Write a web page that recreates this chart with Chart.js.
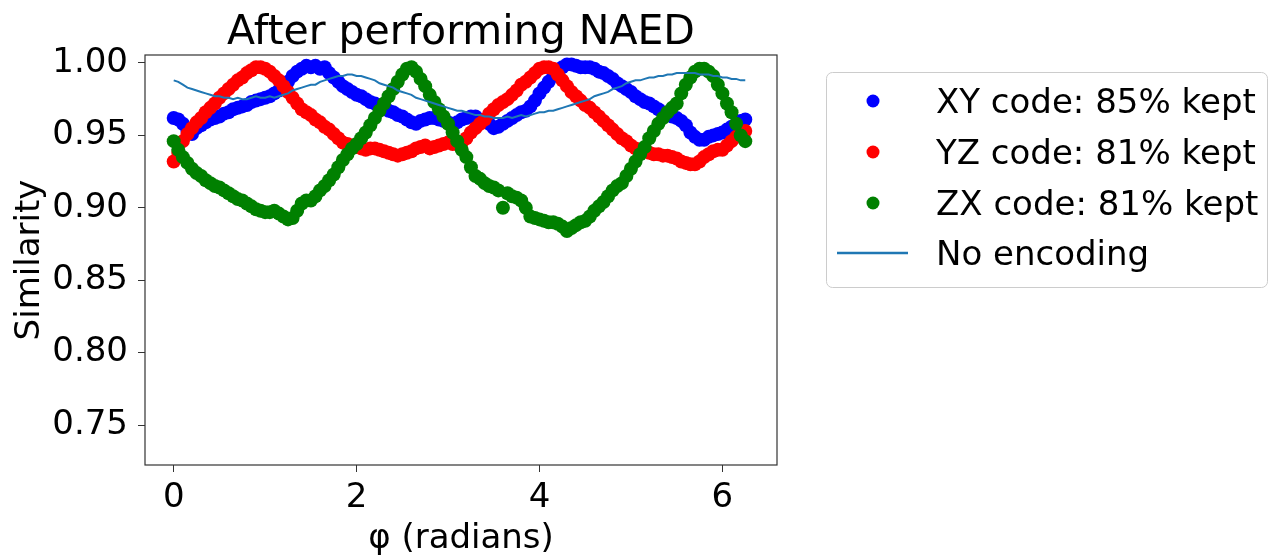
<!DOCTYPE html>
<html>
<head>
<meta charset="utf-8">
<script src="https://cdn.jsdelivr.net/npm/chart.js@4"></script>
<style>
  html, body { margin: 0; padding: 0; background: #fff; }
  canvas { display: block; }
</style>
</head>
<body>
<canvas id="grafica" width="1269" height="556"></canvas>
<script>
// Ángulo φ (radianes)
const phi = [
  0.00, 0.05, 0.10, 0.15, 0.20, 0.25, 0.30, 0.35, 0.40, 0.45,
  0.50, 0.55, 0.60, 0.65, 0.70, 0.75, 0.80, 0.85, 0.90, 0.95,
  1.00, 1.05, 1.10, 1.15, 1.20, 1.25, 1.30, 1.35, 1.40, 1.45,
  1.50, 1.55, 1.60, 1.65, 1.70, 1.75, 1.80, 1.85, 1.90, 1.95,
  2.00, 2.05, 2.10, 2.15, 2.20, 2.25, 2.30, 2.35, 2.40, 2.45,
  2.50, 2.55, 2.60, 2.65, 2.70, 2.75, 2.80, 2.85, 2.90, 2.95,
  3.00, 3.05, 3.10, 3.15, 3.20, 3.25, 3.30, 3.35, 3.40, 3.45,
  3.50, 3.55, 3.60, 3.65, 3.70, 3.75, 3.80, 3.85, 3.90, 3.95,
  4.00, 4.05, 4.10, 4.15, 4.20, 4.25, 4.30, 4.35, 4.40, 4.45,
  4.50, 4.55, 4.60, 4.65, 4.70, 4.75, 4.80, 4.85, 4.90, 4.95,
  5.00, 5.05, 5.10, 5.15, 5.20, 5.25, 5.30, 5.35, 5.40, 5.45,
  5.50, 5.55, 5.60, 5.65, 5.70, 5.75, 5.80, 5.85, 5.90, 5.95,
  6.00, 6.05, 6.10, 6.15, 6.20, 6.25
];

// XY code: 85% kept
const xyCode = [
  0.962, 0.961, 0.958, 0.953, 0.951, 0.955, 0.957, 0.959, 0.961, 0.962,
  0.963, 0.965, 0.966, 0.968, 0.969, 0.970, 0.971, 0.973, 0.974, 0.975,
  0.976, 0.977, 0.979, 0.981, 0.984, 0.987, 0.991, 0.994, 0.996, 0.998,
  0.997, 0.998, 0.996, 0.997, 0.993, 0.990, 0.987, 0.984, 0.982, 0.980,
  0.978, 0.977, 0.975, 0.973, 0.972, 0.970, 0.969, 0.967, 0.966, 0.964,
  0.963, 0.961, 0.959, 0.958, 0.960, 0.961, 0.962, 0.962, 0.961, 0.960,
  0.959, 0.958, 0.959, 0.961, 0.962, 0.963, 0.963, 0.961, 0.960, 0.958,
  0.955, 0.956, 0.958, 0.960, 0.962, 0.964, 0.966, 0.967, 0.970, 0.974,
  0.979, 0.983, 0.987, 0.991, 0.994, 0.997, 0.999, 0.999, 0.998, 0.997,
  0.997, 0.997, 0.996, 0.994, 0.993, 0.991, 0.989, 0.986, 0.984, 0.982,
  0.980, 0.977, 0.975, 0.973, 0.972, 0.970, 0.968, 0.966, 0.965, 0.963,
  0.962, 0.960, 0.957, 0.952, 0.949, 0.947, 0.947, 0.949, 0.950, 0.951,
  0.952, 0.954, 0.956, 0.958, 0.960, 0.961
];

// YZ code: 81% kept
const yzCode = [
  0.932, 0.938, 0.946, 0.951, 0.955, 0.959, 0.962, 0.966, 0.969, 0.972,
  0.976, 0.979, 0.982, 0.985, 0.988, 0.990, 0.993, 0.995, 0.997, 0.997,
  0.996, 0.994, 0.991, 0.988, 0.984, 0.980, 0.976, 0.972, 0.968, 0.966,
  0.964, 0.961, 0.959, 0.956, 0.954, 0.951, 0.948, 0.945, 0.944, 0.943,
  0.942, 0.941, 0.940, 0.941, 0.941, 0.940, 0.939, 0.938, 0.937, 0.936,
  0.937, 0.938, 0.939, 0.941, 0.942, 0.943, 0.941, 0.942, 0.943, 0.944,
  0.945, 0.944, 0.944, 0.945, 0.948, 0.952, 0.955, 0.958, 0.961, 0.965,
  0.968, 0.971, 0.973, 0.975, 0.978, 0.981, 0.985, 0.987, 0.990, 0.993,
  0.996, 0.997, 0.997, 0.996, 0.992, 0.988, 0.984, 0.980, 0.977, 0.974,
  0.971, 0.969, 0.966, 0.963, 0.960, 0.957, 0.954, 0.951, 0.948, 0.946,
  0.943, 0.941, 0.940, 0.939, 0.938, 0.937, 0.937, 0.936, 0.936, 0.935,
  0.934, 0.932, 0.931, 0.930, 0.930, 0.932, 0.935, 0.937, 0.939, 0.940,
  0.940, 0.943, 0.946, 0.949, 0.952, 0.953
];

// ZX code: 81% kept
const zxCode = [
  0.946, 0.940, 0.935, 0.931, 0.927, 0.924, 0.922, 0.919, 0.917, 0.915,
  0.914, 0.912, 0.910, 0.908, 0.906, 0.905, 0.903, 0.901, 0.899, 0.898,
  0.897, 0.897, 0.898, 0.896, 0.894, 0.892, 0.893, 0.898, 0.903, 0.905,
  0.905, 0.908, 0.912, 0.915, 0.919, 0.923, 0.928, 0.933, 0.937, 0.941,
  0.944, 0.948, 0.952, 0.957, 0.962, 0.967, 0.972, 0.977, 0.982, 0.987,
  0.992, 0.996, 0.997, 0.994, 0.989, 0.984, 0.978, 0.973, 0.968, 0.963,
  0.958, 0.952, 0.946, 0.940, 0.935, 0.928, 0.922, 0.920, 0.917, 0.915,
  0.914, 0.912, 0.900, 0.910, 0.908, 0.907, 0.905, 0.900, 0.894, 0.893,
  0.892, 0.891, 0.890, 0.890, 0.889, 0.887, 0.884, 0.886, 0.888, 0.890,
  0.891, 0.894, 0.898, 0.901, 0.904, 0.908, 0.912, 0.915, 0.917, 0.922,
  0.927, 0.932, 0.937, 0.942, 0.948, 0.953, 0.958, 0.962, 0.966, 0.969,
  0.972, 0.979, 0.985, 0.990, 0.994, 0.996, 0.996, 0.994, 0.991, 0.985,
  0.979, 0.972, 0.966, 0.958, 0.950, 0.946
];

// Sin codificación
const noEncoding = [
  0.988, 0.987, 0.985, 0.983, 0.982, 0.981, 0.980, 0.979, 0.978, 0.977,
  0.977, 0.976, 0.976, 0.975, 0.976, 0.975, 0.975, 0.976, 0.977, 0.976,
  0.976, 0.977, 0.976, 0.977, 0.978, 0.979, 0.981, 0.982, 0.983, 0.984,
  0.985, 0.985, 0.987, 0.988, 0.989, 0.990, 0.991, 0.991, 0.992, 0.992,
  0.991, 0.991, 0.990, 0.989, 0.988, 0.986, 0.985, 0.984, 0.983, 0.981,
  0.980, 0.979, 0.978, 0.976, 0.975, 0.974, 0.973, 0.972, 0.971, 0.970,
  0.969, 0.968, 0.967, 0.967, 0.966, 0.965, 0.964, 0.964, 0.963, 0.963,
  0.962, 0.962, 0.962, 0.963, 0.962, 0.963, 0.964, 0.963, 0.964, 0.965,
  0.966, 0.966, 0.967, 0.967, 0.968, 0.969, 0.970, 0.971, 0.972, 0.973,
  0.974, 0.975, 0.977, 0.978, 0.979, 0.980, 0.982, 0.983, 0.984, 0.986,
  0.987, 0.988, 0.988, 0.989, 0.990, 0.990, 0.991, 0.991, 0.992, 0.992,
  0.993, 0.993, 0.993, 0.993, 0.993, 0.992, 0.992, 0.992, 0.991, 0.991,
  0.990, 0.990, 0.989, 0.989, 0.988, 0.988
];

const seriesLabels = ['XY code: 85% kept', 'YZ code: 81% kept', 'ZX code: 81% kept', 'No encoding'];
const seriesColors = ['#0000ff', '#ff0000', '#008000', '#1f77b4'];
const xTicks = [0, 2, 4, 6];
const yTicks = [0.75, 0.80, 0.85, 0.90, 0.95, 1.00];
const chartTitle = 'After performing NAED';
const fontFamily = '"DejaVu Sans", sans-serif';

const toPoints = (values) => values.map((v, i) => ({ x: phi[i], y: v }));

// Título, marco y leyenda dibujados a mano
const decorPlugin = {
  id: 'decor',
  afterDraw(chart) {
    const { ctx, chartArea: a } = chart;
    ctx.save();
    ctx.strokeStyle = '#333';
    ctx.lineWidth = 1.2;
    ctx.strokeRect(a.left, a.top, a.right - a.left, a.bottom - a.top);

    ctx.fillStyle = '#000';
    ctx.font = '41px ' + fontFamily;
    ctx.textAlign = 'center';
    ctx.textBaseline = 'alphabetic';
    ctx.fillText(chartTitle, (a.left + a.right) / 2, 44);

    // leyenda
    ctx.beginPath();
    ctx.roundRect(826.5, 72.5, 441, 215, 6);
    ctx.fillStyle = 'rgba(255,255,255,0.8)';
    ctx.fill();
    ctx.strokeStyle = '#cccccc';
    ctx.lineWidth = 1;
    ctx.stroke();

    const baselines = [113, 164, 215, 265];
    ctx.font = '34px ' + fontFamily;
    ctx.textAlign = 'left';
    seriesLabels.forEach((label, i) => {
      const cy = baselines[i] - 12;
      if (i < 3) {
        ctx.beginPath();
        ctx.arc(873, cy, 6.5, 0, Math.PI * 2);
        ctx.fillStyle = seriesColors[i];
        ctx.fill();
      } else {
        ctx.beginPath();
        ctx.moveTo(837, cy);
        ctx.lineTo(908, cy);
        ctx.strokeStyle = seriesColors[i];
        ctx.lineWidth = 2.5;
        ctx.stroke();
      }
      ctx.fillStyle = '#000';
      ctx.fillText(label, 936, baselines[i]);
    });
    ctx.restore();
  }
};

const scatterSet = (values, i) => ({
  label: seriesLabels[i],
  data: toPoints(values),
  backgroundColor: seriesColors[i],
  borderWidth: 0,
  pointRadius: 7,
  order: 4 - i
});

const ctx = document.getElementById('grafica').getContext('2d');
new Chart(ctx, {
  type: 'scatter',
  data: {
    datasets: [
      scatterSet(xyCode, 0),
      scatterSet(yzCode, 1),
      scatterSet(zxCode, 2),
      {
        label: seriesLabels[3],
        data: toPoints(noEncoding),
        showLine: true,
        borderColor: seriesColors[3],
        borderWidth: 2,
        pointRadius: 0,
        tension: 0,
        order: 0
      }
    ]
  },
  options: {
    responsive: false,
    animation: false,
    devicePixelRatio: 1,
    events: [],
    layout: { padding: { top: 55, right: 492, left: 0, bottom: 0 } },
    plugins: {
      legend: { display: false },
      title: { display: false },
      tooltip: { enabled: false }
    },
    scales: {
      x: {
        type: 'linear',
        min: -0.314,
        max: 6.597,
        afterBuildTicks: (s) => { s.ticks = xTicks.map(v => ({ value: v })); },
        afterFit: (s) => { s.height = 91; },
        grid: { drawOnChartArea: false, drawTicks: true, tickLength: 7, color: '#333' },
        border: { display: false },
        ticks: {
          font: { family: fontFamily, size: 34 },
          color: '#000',
          padding: 6,
          maxRotation: 0,
          callback: (v) => String(v)
        },
        title: {
          display: true,
          text: 'φ (radians)',
          color: '#000',
          font: { family: fontFamily, size: 34, lineHeight: 1 },
          padding: { top: 0, bottom: 0 }
        }
      },
      y: {
        type: 'linear',
        min: 0.7224,
        max: 1.0055,
        afterBuildTicks: (s) => { s.ticks = yTicks.map(v => ({ value: v })); },
        afterFit: (s) => { s.width = 145; },
        grid: { drawOnChartArea: false, drawTicks: true, tickLength: 7, color: '#333' },
        border: { display: false },
        ticks: {
          font: { family: fontFamily, size: 34 },
          color: '#000',
          padding: 10,
          callback: (v) => Number(v).toFixed(2)
        },
        title: {
          display: true,
          text: 'Similarity',
          color: '#000',
          font: { family: fontFamily, size: 34, lineHeight: 1 },
          padding: { top: 13, bottom: 0 }
        }
      }
    }
  },
  plugins: [decorPlugin]
});
</script>
</body>
</html>
